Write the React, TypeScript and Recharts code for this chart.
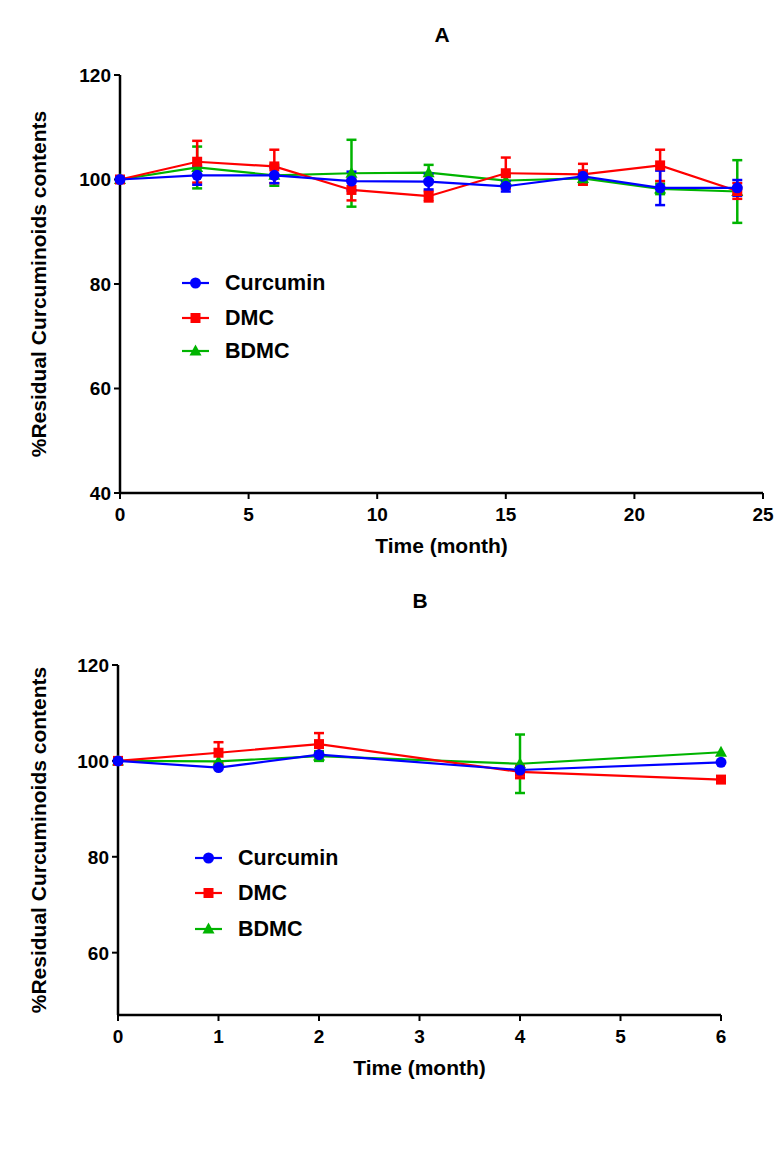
import React from 'react';
import { LineChart, Line, XAxis, YAxis, ErrorBar, Legend } from 'recharts';

// ---------- Data: panel A (0-24 months) ----------
const monthsA = [0, 3, 6, 9, 12, 15, 18, 21, 24];
const curcuminA = [100, 100.8, 100.8, 99.7, 99.6, 98.7, 100.6, 98.4, 98.4];
const curcuminAErr = [0, 1.8, 1.5, 1.8, 1.5, 1.0, 1.0, 3.3, 1.5];
const dmcA = [100, 103.4, 102.5, 98.0, 96.8, 101.2, 101.0, 102.7, 97.8];
const dmcAErr = [0, 4.0, 3.2, 2.0, 1.0, 3.0, 2.0, 3.0, 1.5];
const bdmcA = [100, 102.3, 100.8, 101.2, 101.3, 99.8, 100.2, 98.2, 97.7];
const bdmcAErr = [0, 4.0, 2.0, 6.4, 1.5, 1.0, 1.0, 1.0, 6.0];

// ---------- Data: panel B (0-6 months) ----------
const monthsB = [0, 1, 2, 4, 6];
const curcuminB = [100, 98.6, 101.3, 98.1, 99.7];
const curcuminBErr = [0, 0, 0, 0, 0];
const dmcB = [100, 101.7, 103.5, 97.7, 96.1];
const dmcBErr = [0, 2.2, 2.3, 1.3, 0];
const bdmcB = [100, 99.9, 101.0, 99.4, 101.8];
const bdmcBErr = [0, 0, 1.0, 6.1, 0];

const ticksA_X = [0, 5, 10, 15, 20, 25];
const ticksA_Y = [40, 60, 80, 100, 120];
const ticksB_X = [0, 1, 2, 3, 4, 5, 6];
const ticksB_Y = [60, 80, 100, 120];

const seriesNames = ['Curcumin', 'DMC', 'BDMC'];
const yTitle = '%Residual Curcuminoids contents';
const xTitle = 'Time (month)';

const BLUE = '#0000ff';
const RED = '#ff0000';
const GREEN = '#00b400';
const FONT = '"Liberation Sans", Arial, Helvetica, sans-serif';

const dataA = monthsA.map((m, i) => ({
  month: m,
  cur: curcuminA[i], curErr: curcuminAErr[i],
  dmc: dmcA[i], dmcErr: dmcAErr[i],
  bdmc: bdmcA[i], bdmcErr: bdmcAErr[i],
}));
const dataB = monthsB.map((m, i) => ({
  month: m,
  cur: curcuminB[i], curErr: curcuminBErr[i],
  dmc: dmcB[i], dmcErr: dmcBErr[i],
  bdmc: bdmcB[i], bdmcErr: bdmcBErr[i],
}));

const circleDot = (color: string) => (p: any) => {
  if (p.cx == null || p.cy == null) return <g key={`c-${p.index}`} />;
  return <circle key={`c-${p.index}`} cx={p.cx} cy={p.cy} r={5.5} fill={color} stroke="none" />;
};
const squareDot = (color: string) => (p: any) => {
  if (p.cx == null || p.cy == null) return <g key={`s-${p.index}`} />;
  return <rect key={`s-${p.index}`} x={p.cx - 5} y={p.cy - 5} width={10} height={10} fill={color} stroke="none" />;
};
const triDot = (color: string) => (p: any) => {
  if (p.cx == null || p.cy == null) return <g key={`t-${p.index}`} />;
  const { cx, cy } = p;
  return <path key={`t-${p.index}`} d={`M${cx},${cy - 6.5} L${cx + 6},${cy + 4.5} L${cx - 6},${cy + 4.5} Z`} fill={color} stroke="none" />;
};

const TICK_FS = 19;
const tickTextStyle: React.CSSProperties = { fontFamily: FONT, fontWeight: 700, fontSize: `${TICK_FS}px`, fill: '#000' };
const XTick = (p: any) => (
  <text x={p.x} y={p.y} dy="0.75em" textAnchor="middle" style={tickTextStyle}>
    {p.payload?.value}
  </text>
);
const YTick = (p: any) => (
  <text x={p.x} y={p.y} dy="0.36em" textAnchor="end" style={tickTextStyle}>
    {p.payload?.value}
  </text>
);

const makeLegend = (lineX1: number, lineX2: number, textX: number, ys: number[]) => () => {
  const colors = [BLUE, RED, GREEN];
  const mid = (lineX1 + lineX2) / 2;
  return (
    <svg width={260} height={ys[2] + 20} style={{ display: 'block', overflow: 'visible' }}>
      {seriesNames.map((name, i) => {
        const y = ys[i];
        const c = colors[i];
        return (
          <g key={name}>
            <line x1={lineX1} x2={lineX2} y1={y} y2={y} stroke={c} strokeWidth={2.2} />
            {i === 0 && <circle cx={mid} cy={y} r={5.5} fill={c} />}
            {i === 1 && <rect x={mid - 5} y={y - 5} width={10} height={10} fill={c} />}
            {i === 2 && <path d={`M${mid},${y - 6.5} L${mid + 6},${y + 4.5} L${mid - 6},${y + 4.5} Z`} fill={c} />}
            <text x={textX} y={y} dominantBaseline="central" fontFamily={FONT} fontWeight={700} fontSize={21.5} fill="#000">{name}</text>
          </g>
        );
      })}
    </svg>
  );
};

const yLabelContent = (cx: number) => (props: any) => {
  const vb = props.viewBox || { y: 0, height: 0 };
  const cy = vb.y + vb.height / 2;
  return (
    <text x={cx} y={cy} transform={`rotate(-90 ${cx} ${cy})`} textAnchor="middle" dominantBaseline="central"
      fontFamily={FONT} fontWeight={700} fontSize={21} fill="#000">{yTitle}</text>
  );
};
const xLabelContent = (cy: number) => (props: any) => {
  const vb = props.viewBox || { x: 0, width: 0 };
  const cx = vb.x + vb.width / 2;
  return (
    <text x={cx} y={cy} textAnchor="middle" dominantBaseline="central"
      fontFamily={FONT} fontWeight={700} fontSize={21} fill="#000">{xTitle}</text>
  );
};

const titleStyle = (top: number, left: number): React.CSSProperties => ({
  position: 'absolute', top, left, transform: 'translate(-50%, -50%)',
  fontFamily: FONT, fontWeight: 700, fontSize: 21, color: '#000', lineHeight: 1,
});

function Panel(props: {
  data: any[]; width: number; height: number; top: number;
  margin: any; yWidth: number; xHeight: number;
  xDomain: [number, number]; xTicks: number[]; yDomain: [number, number]; yTicks: number[];
  xLabelY: number; legend: () => React.ReactNode; legendTop: number; legendLeft: number;
}) {
  const p = props;
  const axisLine = { stroke: '#000', strokeWidth: 2.5 };
  const tickLine = { stroke: '#000', strokeWidth: 2 };
  return (
    <div style={{ position: 'absolute', top: p.top, left: 0 }}>
      <LineChart width={p.width} height={p.height} data={p.data} margin={p.margin}>
        <XAxis dataKey="month" type="number" domain={p.xDomain} ticks={p.xTicks}
          axisLine={axisLine} tickLine={tickLine} tickSize={6} tickMargin={8} height={p.xHeight}
          tick={XTick} interval={0}
          label={{ content: xLabelContent(p.xLabelY) } as any} />
        <YAxis type="number" domain={p.yDomain} ticks={p.yTicks}
          axisLine={axisLine} tickLine={tickLine} tickSize={6} tickMargin={3} width={p.yWidth}
          tick={YTick} interval={0}
          label={{ content: yLabelContent(38) } as any} />
        <Legend layout="horizontal" verticalAlign="middle" align="center" content={p.legend as any}
          wrapperStyle={{ top: p.legendTop, left: p.legendLeft, width: 260 }} />
        <Line dataKey="bdmc" name="BDMC" stroke={GREEN} strokeWidth={2.2} dot={triDot(GREEN)} isAnimationActive={false} legendType="triangle">
          <ErrorBar dataKey="bdmcErr" direction="y" width={5} stroke={GREEN} strokeWidth={2.5} isAnimationActive={false} />
        </Line>
        <Line dataKey="dmc" name="DMC" stroke={RED} strokeWidth={2.2} dot={squareDot(RED)} isAnimationActive={false} legendType="square">
          <ErrorBar dataKey="dmcErr" direction="y" width={5} stroke={RED} strokeWidth={2.5} isAnimationActive={false} />
        </Line>
        <Line dataKey="cur" name="Curcumin" stroke={BLUE} strokeWidth={2.2} dot={circleDot(BLUE)} isAnimationActive={false} legendType="circle">
          <ErrorBar dataKey="curErr" direction="y" width={5} stroke={BLUE} strokeWidth={2.5} isAnimationActive={false} />
        </Line>
      </LineChart>
    </div>
  );
}

export default function App() {
  return (
    <div style={{ position: 'absolute', top: 0, left: 0, width: 784, height: 1156, background: '#fff' }}>
      <div style={titleStyle(34, 442)}>A</div>
      <Panel data={dataA} width={784} height={580} top={0}
        margin={{ top: 75, right: 21, bottom: 0, left: 0 }} yWidth={120} xHeight={87}
        xDomain={[0, 25]} xTicks={ticksA_X} yDomain={[40, 120]} yTicks={ticksA_Y}
        xLabelY={545} legend={makeLegend(182, 209, 225, [17, 52, 85])} legendTop={266} legendLeft={0} />
      <div style={titleStyle(600, 420)}>B</div>
      <Panel data={dataB} width={784} height={596} top={560}
        margin={{ top: 105, right: 63, bottom: 0, left: 0 }} yWidth={118} xHeight={141}
        xDomain={[0, 6]} xTicks={ticksB_X} yDomain={[47, 120]} yTicks={ticksB_Y}
        xLabelY={507} legend={makeLegend(195, 222, 238, [17, 52, 88])} legendTop={281} legendLeft={0} />
    </div>
  );
}
